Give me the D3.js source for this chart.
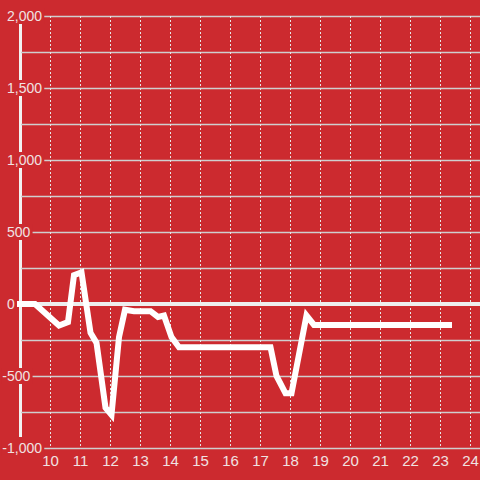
<html>
<head>
    <meta charset="utf-8">
    <title>chart</title>
    <style>
        body { margin: 0; background: #cc2a2f; }
        text { font-family: "Liberation Sans", Arial, sans-serif; }
    </style>
</head>
<body>
<script src="https://cdn.jsdelivr.net/npm/d3@7"></script>
<script>
    // data
    var xValues = [8.9, 9.5, 10.3, 10.6, 10.8, 11.05, 11.35, 11.55, 11.85, 12.05, 12.3, 12.5, 12.8,
        13.35, 13.6, 13.8, 14.05, 14.3, 17.35, 17.55, 17.85, 18.05, 18.55, 18.8, 23.4];
    var yValues = [0, 0, -150, -125, 200, 220, -200, -270, -720, -770, -230, -40, -50,
        -50, -90, -80, -230, -300, -300, -500, -620, -620, -80, -145, -145];
    var xTicks = [10, 11, 12, 13, 14, 15, 16, 17, 18, 19, 20, 21, 22, 23, 24];
    var yGrid = [-1000, -750, -500, -250, 0, 250, 500, 750, 1000, 1250, 1500, 1750, 2000];
    var yLabels = [-1000, -500, 0, 500, 1000, 1500, 2000];

    var width = 480;
    var height = 480;
    var bg = "#cc2a2f";
    var txt = "#f0e2e2";

    var svg = d3.select("body").append("svg")
        .attr("width", width)
        .attr("height", height);

    svg.append("rect").attr("width", width).attr("height", height).attr("fill", bg);

    var x = d3.scaleLinear().domain([10, 24]).range([50, 470]);
    var y = d3.scaleLinear().domain([-1000, 2000]).range([448, 16]);

    // vertical white bar on the left
    svg.append("line")
        .attr("x1", 20.5).attr("x2", 20.5)
        .attr("y1", 24).attr("y2", 437)
        .attr("stroke", "#f2f2f2")
        .attr("stroke-width", 3);

    // horizontal grid
    svg.selectAll(".hgrid")
        .data(yGrid.filter(function (d) { return d !== 0; }))
        .enter().append("line")
        .attr("class", "hgrid")
        .attr("x1", 21).attr("x2", width)
        .attr("y1", function (d) { return y(d) + 0.5; })
        .attr("y2", function (d) { return y(d) + 0.5; })
        .attr("stroke", "#cfcfcf")
        .attr("stroke-width", 1.5);

    // vertical dashed grid
    svg.selectAll(".vgrid")
        .data(xTicks)
        .enter().append("line")
        .attr("class", "vgrid")
        .attr("x1", function (d) { return x(d) + 0.5; })
        .attr("x2", function (d) { return x(d) + 0.5; })
        .attr("y1", y(2000)).attr("y2", y(-1000))
        .attr("stroke", "#e6e6e6")
        .attr("stroke-width", 1)
        .attr("stroke-dasharray", "2,2");

    // zero line
    svg.append("line")
        .attr("x1", 21).attr("x2", width)
        .attr("y1", y(0)).attr("y2", y(0))
        .attr("stroke", "#eeeeee")
        .attr("stroke-width", 4);

    // y labels with background boxes
    var fmt = d3.format(",");
    var yl = svg.selectAll(".ylab")
        .data(yLabels)
        .enter().append("g")
        .attr("class", "ylab")
        .attr("transform", function (d) { return "translate(7," + y(d) + ")"; });

    yl.append("rect").attr("fill", bg);

    yl.append("text")
        .attr("fill", txt)
        .attr("font-size", 14)
        .attr("dy", "0.35em")
        .attr("text-anchor", "start")
        .text(function (d) { return fmt(Math.abs(d)); });

    yl.filter(function (d) { return d < 0; })
        .append("text")
        .attr("fill", txt)
        .attr("font-size", 14)
        .attr("dy", "0.35em")
        .attr("text-anchor", "end")
        .text("-");

    yl.each(function () {
        var b = this.getBBox();
        d3.select(this).select("rect")
            .attr("x", b.x - 1).attr("y", -8)
            .attr("width", b.width + 3).attr("height", 16);
    });

    // x labels
    var xAxis = d3.axisBottom(x).tickValues(xTicks).tickSize(0).tickPadding(0);
    var gx = svg.append("g")
        .attr("transform", "translate(0,455)")
        .call(xAxis);
    gx.select(".domain").remove();
    gx.selectAll("text")
        .attr("fill", txt)
        .attr("font-size", 15)
        .attr("font-family", "'Liberation Sans', Arial, sans-serif");

    // data line
    var pts = xValues.map(function (d, i) { return [d, yValues[i]]; });
    var line = d3.line()
        .x(function (d) { return x(d[0]); })
        .y(function (d) { return y(d[1]); });

    svg.append("path")
        .datum(pts)
        .attr("d", line)
        .attr("fill", "none")
        .attr("stroke", "#ffffff")
        .attr("stroke-width", 6);
</script>
</body>
</html>
